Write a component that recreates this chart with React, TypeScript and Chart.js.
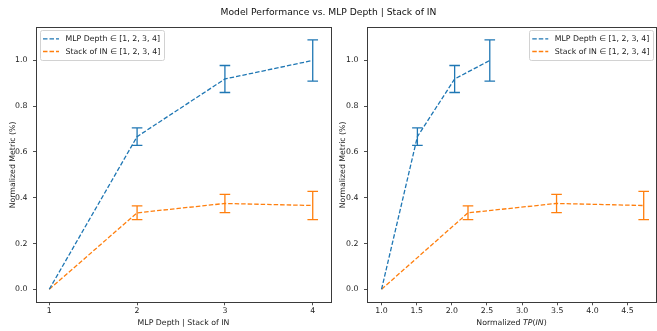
import React, { useEffect, useRef } from "react";
import { Chart, registerables } from "chart.js";

Chart.register(...registerables);

const FONT = "'DejaVu Sans', 'Liberation Sans', sans-serif";
const FS = 7.8;
const TEXT = "#222222";
const SPINE = "#3a3a3a";
const BLUE = "#1f77b4";
const ORANGE = "#ff7f0e";

// ---- data ----
const TITLE = "Model Performance vs. MLP Depth | Stack of IN";
const SERIES_LABELS = ["MLP Depth \u2208 [1, 2, 3, 4]", "Stack of IN \u2208 [1, 2, 3, 4]"];
const Y_TITLE = "Normalized Metric (%)";
const LEFT_X_TITLE = "MLP Depth | Stack of IN";

const depthX = [1, 2, 3, 4];
const mlpY = [0, 0.667, 0.919, 1.0];
const mlpErr = [0, 0.038, 0.059, 0.09];
const stackY = [0, 0.334, 0.375, 0.366];
const stackErr = [0, 0.03, 0.04, 0.062];

const mlpTpX = [1.0, 1.51, 2.04, 2.54];
const stackTpX = [1.0, 2.23, 3.49, 4.73];

const yTicks = [0, 0.2, 0.4, 0.6, 0.8, 1.0];
const leftXTicks = [1, 2, 3, 4];
const rightXTicks = [1.0, 1.5, 2.0, 2.5, 3.0, 3.5, 4.0, 4.5];

const Y_MIN = -0.057;
const Y_MAX = 1.144;
const LEFT_X_MIN = 0.849;
const LEFT_X_MAX = 4.208;
const RIGHT_X_MIN = 0.793;
const RIGHT_X_MAX = 4.905;

const W = 657;
const H = 331;

// ---- plugins ----
const framePlugin = {
  id: "frame",
  afterDraw(chart: any) {
    const { ctx, chartArea: a } = chart;
    ctx.save();
    ctx.strokeStyle = SPINE;
    ctx.lineWidth = 1;
    const l = Math.floor(a.left) + 0.5;
    const t = Math.floor(a.top) + 0.5;
    const r = Math.floor(a.right) + 0.5;
    const b = Math.floor(a.bottom) + 0.5;
    ctx.strokeRect(l, t, r - l, b - t);
    ctx.restore();
  },
};

const errorBarPlugin = {
  id: "errorBars",
  afterDatasetsDraw(chart: any, _args: any, opts: any) {
    if (!opts || !opts.errors) return;
    const { ctx } = chart;
    const xs = chart.scales.x;
    const ys = chart.scales.y;
    ctx.save();
    chart.data.datasets.forEach((ds: any, i: number) => {
      const errs = opts.errors[i];
      if (!errs) return;
      ctx.strokeStyle = ds.borderColor;
      ctx.lineWidth = 1.3;
      ctx.setLineDash([]);
      ds.data.forEach((p: any, j: number) => {
        const e = errs[j];
        if (!e) return;
        const px = xs.getPixelForValue(p.x);
        const top = ys.getPixelForValue(p.y + e);
        const bot = ys.getPixelForValue(p.y - e);
        const cap = 5.3;
        ctx.beginPath();
        ctx.moveTo(px, top);
        ctx.lineTo(px, bot);
        ctx.moveTo(px - cap, top);
        ctx.lineTo(px + cap, top);
        ctx.moveTo(px - cap, bot);
        ctx.lineTo(px + cap, bot);
        ctx.stroke();
      });
    });
    ctx.restore();
  },
};

function roundRect(ctx: CanvasRenderingContext2D, x: number, y: number, w: number, h: number, r: number) {
  ctx.beginPath();
  ctx.moveTo(x + r, y);
  ctx.lineTo(x + w - r, y);
  ctx.quadraticCurveTo(x + w, y, x + w, y + r);
  ctx.lineTo(x + w, y + h - r);
  ctx.quadraticCurveTo(x + w, y + h, x + w - r, y + h);
  ctx.lineTo(x + r, y + h);
  ctx.quadraticCurveTo(x, y + h, x, y + h - r);
  ctx.lineTo(x, y + r);
  ctx.quadraticCurveTo(x, y, x + r, y);
  ctx.closePath();
}

const innerLegendPlugin = {
  id: "innerLegend",
  afterDraw(chart: any, _args: any, opts: any) {
    if (!opts || !opts.align) return;
    const { ctx, chartArea: a } = chart;
    const items = chart.data.datasets.map((d: any) => ({ label: d.label, color: d.borderColor }));
    ctx.save();
    ctx.font = `${FS}px ${FONT}`;
    const textW = Math.max(...items.map((it: any) => ctx.measureText(it.label).width));
    const w = 25.5 + textW + 4;
    const h = 30;
    const x = opts.align === "left" ? a.left + 4 : a.right - 2.5 - w;
    const y = a.top + 2;
    roundRect(ctx, Math.round(x) + 0.5, Math.round(y) + 0.5, Math.round(w), h, 2);
    ctx.fillStyle = "rgba(255,255,255,0.8)";
    ctx.fill();
    ctx.strokeStyle = "#d2d2d2";
    ctx.lineWidth = 1;
    ctx.stroke();
    items.forEach((it: any, i: number) => {
      const cy = y + 9.3 + i * 12.7;
      ctx.beginPath();
      ctx.setLineDash([4.5, 2]);
      ctx.strokeStyle = it.color;
      ctx.lineWidth = 1.3;
      ctx.moveTo(x + 3, cy);
      ctx.lineTo(x + 19, cy);
      ctx.stroke();
      ctx.setLineDash([]);
      ctx.fillStyle = TEXT;
      ctx.textBaseline = "middle";
      ctx.textAlign = "left";
      ctx.fillText(it.label, x + 25.5, cy);
    });
    ctx.restore();
  },
};

const supTitlePlugin = {
  id: "supTitle",
  afterDraw(chart: any, _args: any, opts: any) {
    if (!opts || !opts.text) return;
    const { ctx } = chart;
    ctx.save();
    ctx.font = `9.2px ${FONT}`;
    ctx.fillStyle = "#111111";
    ctx.textAlign = "center";
    ctx.textBaseline = "middle";
    ctx.fillText(opts.text, W / 2, 12.5);
    ctx.restore();
  },
};

const mathXTitlePlugin = {
  id: "mathXTitle",
  afterDraw(chart: any, _args: any, opts: any) {
    if (!opts || !opts.parts) return;
    const { ctx, chartArea: a } = chart;
    ctx.save();
    ctx.textBaseline = "middle";
    ctx.textAlign = "left";
    ctx.fillStyle = TEXT;
    const fontOf = (it: boolean) => `${it ? "italic " : ""}${FS}px ${FONT}`;
    let total = 0;
    opts.parts.forEach((p: any) => {
      ctx.font = fontOf(p.italic);
      total += ctx.measureText(p.text).width;
    });
    let x = (a.left + a.right) / 2 - total / 2;
    opts.parts.forEach((p: any) => {
      ctx.font = fontOf(p.italic);
      ctx.fillText(p.text, x, opts.y);
      x += ctx.measureText(p.text).width;
    });
    ctx.restore();
  },
};

// ---- config helpers ----
const tickFont = { family: FONT, size: FS };

function yScale(width: number) {
  return {
    type: "linear",
    min: Y_MIN,
    max: Y_MAX,
    afterBuildTicks: (s: any) => {
      s.ticks = yTicks.map((v) => ({ value: v }));
    },
    afterFit: (s: any) => {
      s.width = width;
      s.paddingTop = 0;
      s.paddingBottom = 0;
    },
    grid: { drawOnChartArea: false, drawTicks: true, tickLength: 3, color: SPINE, lineWidth: 0.9 },
    border: { display: false },
    ticks: {
      font: tickFont,
      color: TEXT,
      padding: 5.5,
      callback: (v: any) => Number(v).toFixed(1),
    },
    title: {
      display: true,
      text: Y_TITLE,
      font: tickFont,
      color: TEXT,
      padding: { top: 8.3, bottom: 0 },
    },
  };
}

function xScale(min: number, max: number, ticks: number[], fmt: (v: number) => string, title: string | null) {
  return {
    type: "linear",
    min,
    max,
    afterBuildTicks: (s: any) => {
      s.ticks = ticks.map((v) => ({ value: v }));
    },
    afterFit: (s: any) => {
      s.height = 28.7;
      s.paddingLeft = 0;
      s.paddingRight = 0;
    },
    grid: { drawOnChartArea: false, drawTicks: true, tickLength: 3, color: SPINE, lineWidth: 0.9 },
    border: { display: false },
    ticks: {
      font: tickFont,
      color: TEXT,
      padding: 1,
      autoSkip: false,
      maxRotation: 0,
      callback: (v: any) => fmt(Number(v)),
    },
    title: {
      display: !!title,
      text: title || "",
      font: tickFont,
      color: TEXT,
      padding: { top: 0, bottom: 3.6 },
    },
  };
}

function lineDataset(label: string, xs: number[], ys: number[], color: string) {
  return {
    label,
    data: xs.map((x, i) => ({ x, y: ys[i] })),
    borderColor: color,
    backgroundColor: color,
    borderWidth: 1.3,
    borderDash: [4.5, 2],
    pointRadius: 0,
    pointHoverRadius: 0,
    fill: false,
    tension: 0,
  };
}

function ChartCanvas({ config }: { config: any }) {
  const ref = useRef<HTMLCanvasElement | null>(null);
  useEffect(() => {
    if (!ref.current) return;
    const chart = new Chart(ref.current, config);
    return () => chart.destroy();
  }, []);
  return (
    <canvas
      ref={ref}
      width={W}
      height={H}
      style={{ position: "absolute", left: 0, top: 0, width: W, height: H, display: "block" }}
    />
  );
}

const commonOptions = {
  responsive: false,
  animation: false,
  events: [],
};

const leftConfig = {
  type: "line",
  data: {
    datasets: [
      lineDataset(SERIES_LABELS[0], depthX, mlpY, BLUE),
      lineDataset(SERIES_LABELS[1], depthX, stackY, ORANGE),
    ],
  },
  options: {
    ...commonOptions,
    layout: { padding: { left: 0, top: 27.5, right: 326, bottom: 0 } },
    scales: {
      x: xScale(LEFT_X_MIN, LEFT_X_MAX, leftXTicks, (v) => String(v), LEFT_X_TITLE),
      y: yScale(36),
    },
    plugins: {
      legend: { display: false },
      tooltip: { enabled: false },
      title: { display: false },
      errorBars: { errors: [mlpErr, stackErr] },
      innerLegend: { align: "left" },
      supTitle: { text: TITLE },
    },
  },
  plugins: [framePlugin, errorBarPlugin, innerLegendPlugin, supTitlePlugin],
};

const rightConfig = {
  type: "line",
  data: {
    datasets: [
      lineDataset(SERIES_LABELS[0], mlpTpX, mlpY, BLUE),
      lineDataset(SERIES_LABELS[1], stackTpX, stackY, ORANGE),
    ],
  },
  options: {
    ...commonOptions,
    layout: { padding: { left: 330, top: 27.5, right: 1, bottom: 0 } },
    scales: {
      x: xScale(RIGHT_X_MIN, RIGHT_X_MAX, rightXTicks, (v) => v.toFixed(1), null),
      y: yScale(37),
    },
    plugins: {
      legend: { display: false },
      tooltip: { enabled: false },
      title: { display: false },
      errorBars: { errors: [mlpErr, stackErr] },
      innerLegend: { align: "right" },
      mathXTitle: {
        y: 323.3,
        parts: [
          { text: "Normalized ", italic: false },
          { text: "TP", italic: true },
          { text: "(", italic: false },
          { text: "IN", italic: true },
          { text: ")", italic: false },
        ],
      },
    },
  },
  plugins: [framePlugin, errorBarPlugin, innerLegendPlugin, mathXTitlePlugin],
};

export default function App() {
  return (
    <div
      style={{
        position: "absolute",
        left: 0,
        top: 0,
        width: W,
        height: H,
        background: "#ffffff",
        overflow: "hidden",
      }}
    >
      <ChartCanvas config={leftConfig} />
      <ChartCanvas config={rightConfig} />
    </div>
  );
}
